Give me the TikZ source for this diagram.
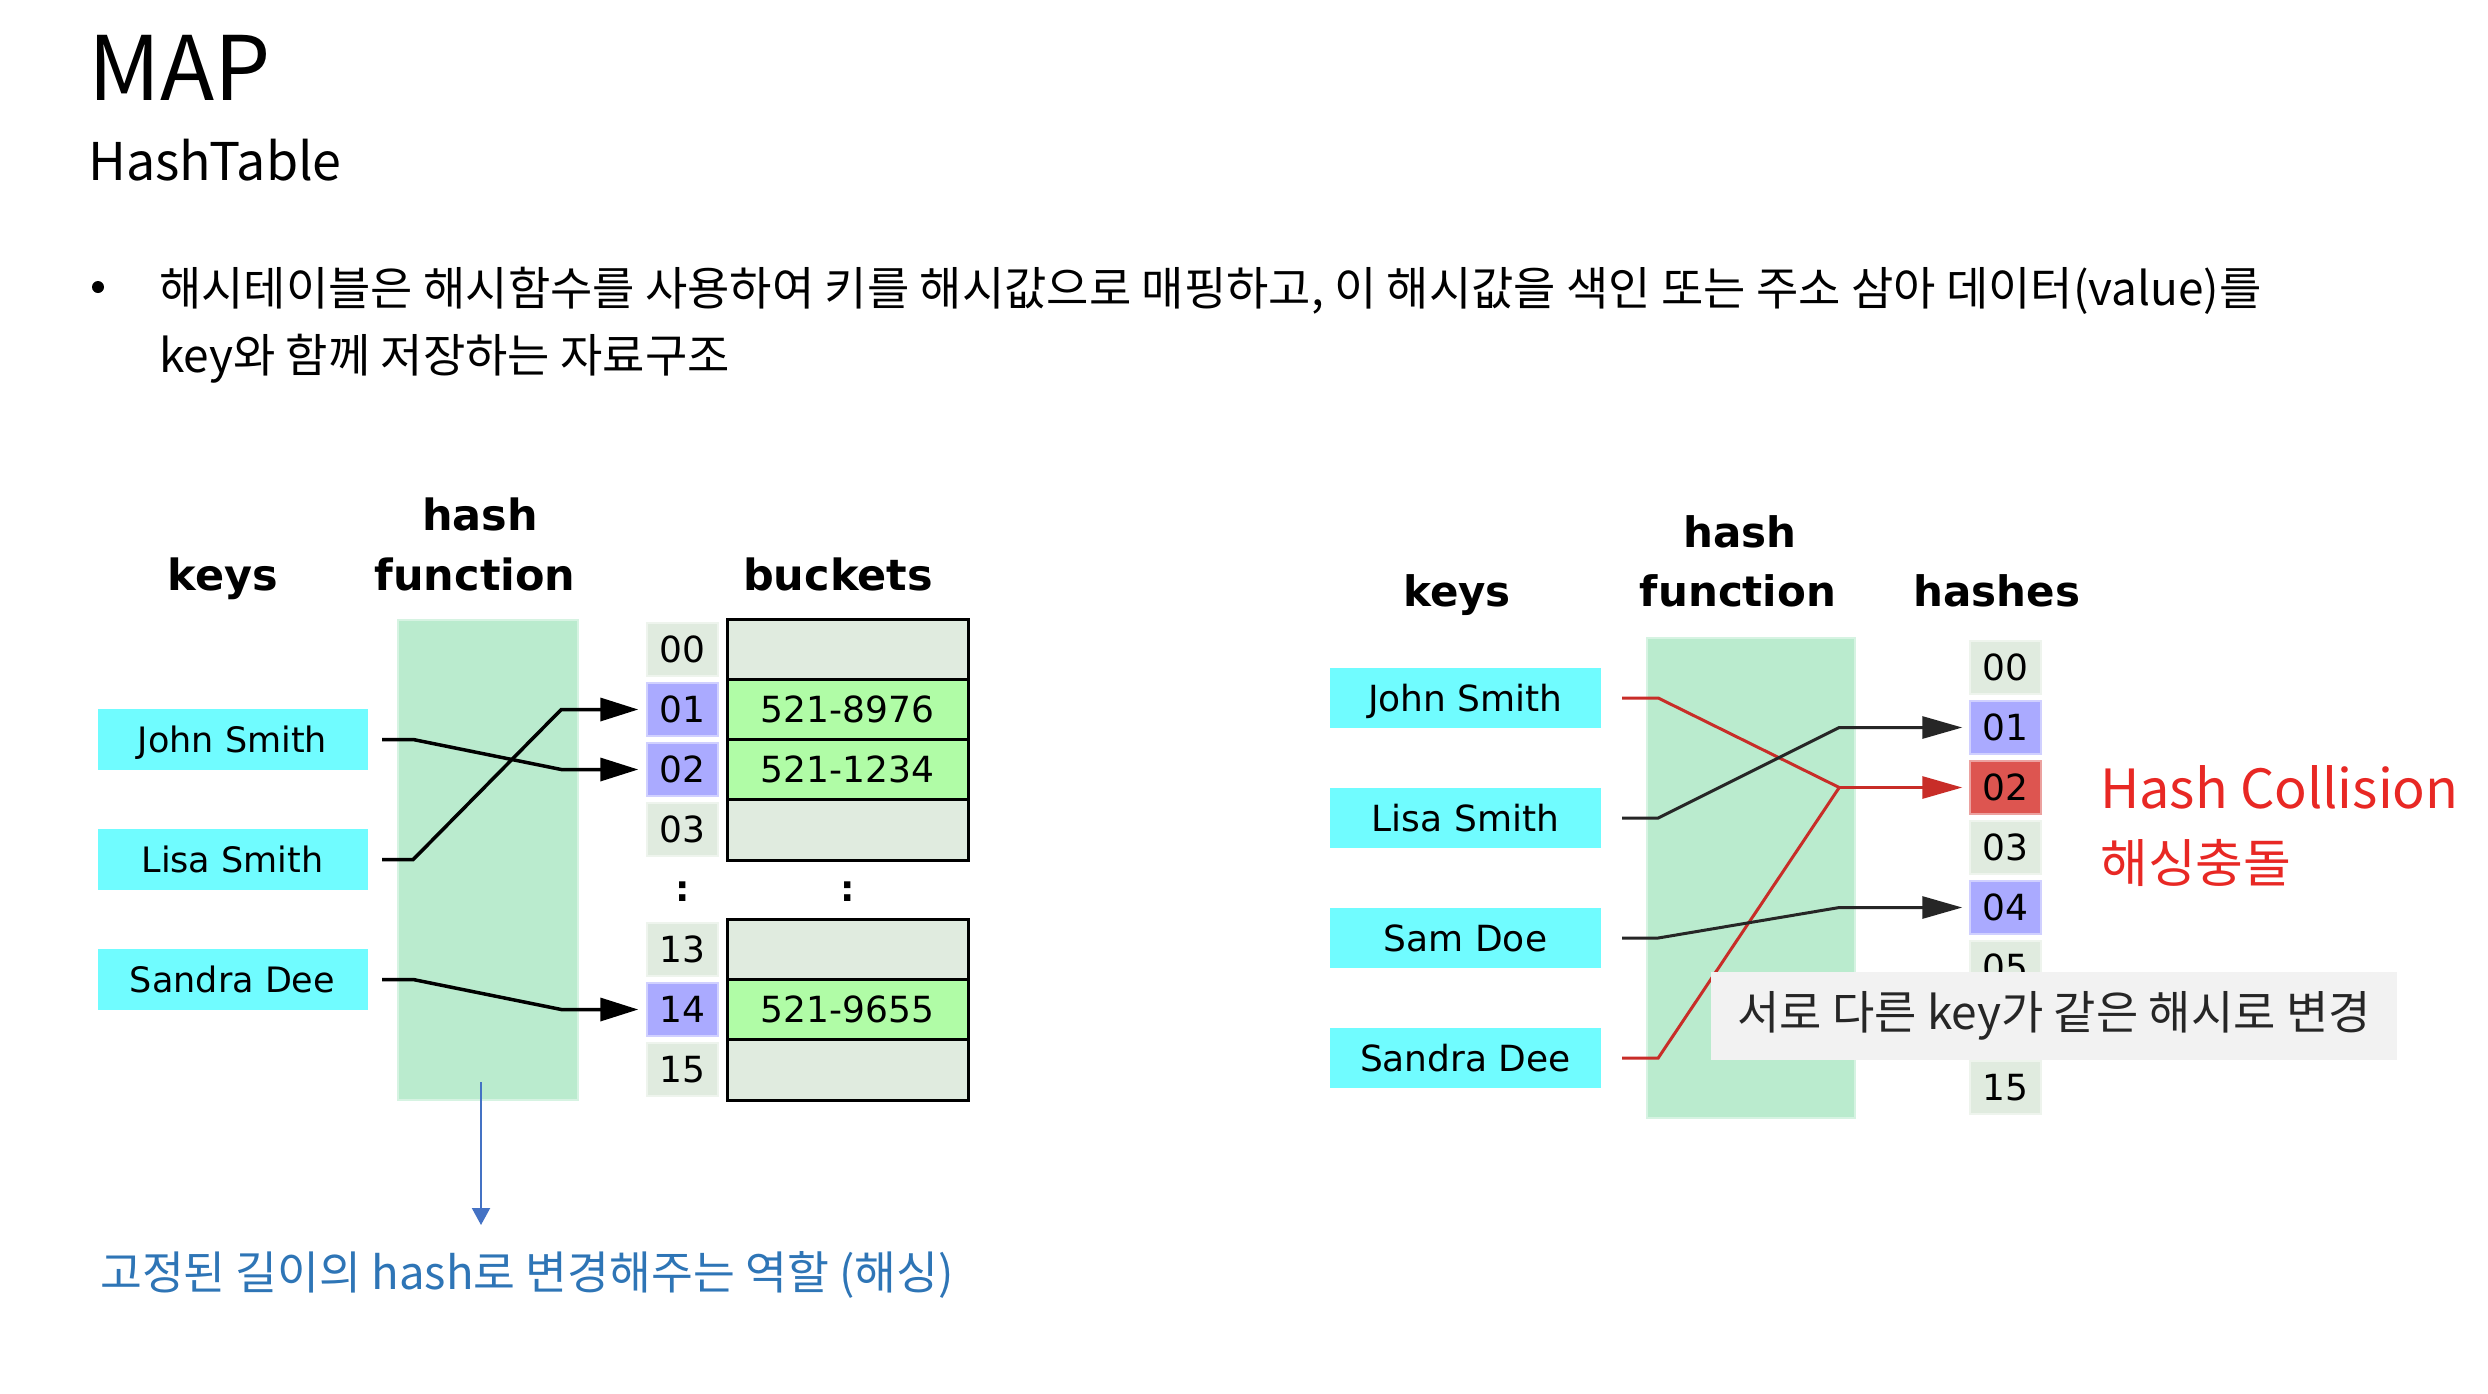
\documentclass[tikz,border=0pt]{standalone}
\usepackage{fontspec}
\setmainfont{DejaVu Sans}
\newfontfamily\kr{Noto Sans CJK KR}
\usetikzlibrary{arrows.meta,calc}
\newcommand\myfs[1]{\fontsize{#1pt}{#1pt}\selectfont}
\definecolor{keycyan}{RGB}{112,252,255}
\definecolor{fngreen}{RGB}{186,235,206}
\definecolor{cellgray}{RGB}{224,235,223}
\definecolor{cellblue}{RGB}{170,170,255}
\definecolor{cellred}{RGB}{221,85,80}
\definecolor{bucketgreen}{RGB}{176,252,166}
\definecolor{linered}{RGB}{200,45,40}
\definecolor{collred}{RGB}{232,40,36}
\definecolor{capblue}{RGB}{46,117,182}
\definecolor{arrowblue}{RGB}{68,114,196}
\definecolor{notegray}{RGB}{242,242,242}
\begin{document}
\begin{tikzpicture}[x=1pt,y=-1pt,
  keybox/.style={fill=keycyan, minimum width=270pt, minimum height=61pt, inner sep=0pt,
     font=\myfs{35}, text height=25.5pt, text depth=0pt},
  fnbox/.style={fill=fngreen, draw=fngreen!60!white, line width=1.5pt, inner sep=0pt},
  idxcell/.style={fill=#1, draw=#1!55!white, line width=1.5pt, minimum width=71pt,
     minimum height=53pt, inner sep=0pt, font=\myfs{36}, text height=26.2pt, text depth=0pt},
  bucket/.style={fill=#1, draw=black, line width=3pt, minimum width=241pt,
     minimum height=60.5pt, inner sep=0pt, font=\myfs{36}, text height=26.2pt, text depth=0pt},
  hdr/.style={font=\myfs{43}\bfseries, anchor=base, inner sep=0pt},
  dots/.style={font=\myfs{36}\bfseries, inner sep=0pt},
  conn/.style={line width=3.5pt, black},
  ltip/.style={-{Triangle[length=38pt,width=23pt]}, shorten >=8pt},
  rtip/.style={-{Triangle[length=40pt,width=22pt]}, shorten >=7pt},
  krtext/.style={font=\kr\myfs{#1}, anchor=base west, inner sep=0pt}
]
\fill[white] (0,0) rectangle (2488,1393);
\useasboundingbox (0,0) rectangle (2488,1393);

% ---- titles ----
\node[krtext=89] (title) at (88,100) {MAP};
\node[krtext=52] (subtitle) at (88,180) {HashTable};
\node[circle, fill=black, inner sep=0pt, minimum size=12pt] (bullet) at (98,287) {};
\node[krtext=46] (line1) at (159,305) {해시테이블은 해시함수를 사용하여 키를 해시값으로 매핑하고, 이 해시값을 색인 또는 주소 삼아 데이터(value)를};
\node[krtext=46] (line2) at (159,372) {key와 함께 저장하는 자료구조};

% ---- left diagram ----
\node[hdr] (lhash) at (480,530) {hash};
\node[hdr] (lfunc) at (475,590) {function};
\node[hdr] (lkeys) at (223,590) {keys};
\node[hdr] (lbuck) at (838,590) {buckets};

\node[fnbox, minimum width=180pt, minimum height=480pt] (lfn) at (488,860) {};

\node[keybox] (lj) at (232.5,739.5) {John Smith};
\node[keybox] (ll) at (232.5,859.5) {Lisa Smith};
\node[keybox] (ls) at (232.5,979.5) {Sandra Dee};

\node[idxcell=cellgray] (l00) at (682.5,649.5) {00};
\node[idxcell=cellblue] (l01) at (682.5,709.5) {01};
\node[idxcell=cellblue] (l02) at (682.5,769.5) {02};
\node[idxcell=cellgray] (l03) at (682.5,829.5) {03};
\node[idxcell=cellgray] (l13) at (682.5,949.5) {13};
\node[idxcell=cellblue] (l14) at (682.5,1009.5) {14};
\node[idxcell=cellgray] (l15) at (682.5,1069.5) {15};
\node[dots] (ldots1) at (682.5,892) {:};

\node[bucket=cellgray] (b00) at (847.5,649.5) {};
\node[bucket=bucketgreen] (b01) at (847.5,709.5) {521-8976};
\node[bucket=bucketgreen] (b02) at (847.5,769.5) {521-1234};
\node[bucket=cellgray] (b03) at (847.5,830) {};
\node[bucket=cellgray] (b13) at (847.5,949.5) {};
\node[bucket=bucketgreen] (b14) at (847.5,1009.5) {521-9655};
\node[bucket=cellgray] (b15) at (847.5,1070) {};
\node[dots] (ldots2) at (847.5,892) {:};

\draw[conn, ltip] ($(lj.east)+(14.5,0)$) -- ++(31,0) -- ($(l02.west)+(-85,0)$) -- (l02.west);
\draw[conn, ltip] ($(ll.east)+(14.5,0)$) -- ++(31,0) -- ($(l01.west)+(-85,0)$) -- (l01.west);
\draw[conn, ltip] ($(ls.east)+(14.5,0)$) -- ++(31,0) -- ($(l14.west)+(-85,0)$) -- (l14.west);

\coordinate (bs) at (481,1082);
\coordinate (be) at (481,1225);
\draw[arrowblue, line width=2pt, -{Triangle[length=17pt,width=18pt]}] (bs) -- (be);
\node[krtext=45.5, text=capblue] (cap) at (100,1289) {고정된 길이의 hash로 변경해주는 역할 (해싱)};

% ---- right diagram ----
\node[hdr, font=\myfs{42}\bfseries] (rhash) at (1740,547) {hash};
\node[hdr, font=\myfs{42}\bfseries] (rfunc) at (1738,606) {function};
\node[hdr, font=\myfs{42}\bfseries] (rkeys) at (1457,606) {keys};
\node[hdr, font=\myfs{42}\bfseries] (rhashes) at (1997,606) {hashes};

\node[fnbox, minimum width=208pt, minimum height=480pt] (rfn) at (1751,878) {};

\node[keybox, minimum width=271pt, minimum height=60pt, font=\myfs{36}, text height=26.2pt] (rj) at (1465.5,698) {John Smith};
\node[keybox, minimum width=271pt, minimum height=60pt, font=\myfs{36}, text height=26.2pt] (rl) at (1465.5,818) {Lisa Smith};
\node[keybox, minimum width=271pt, minimum height=60pt, font=\myfs{36}, text height=26.2pt] (rs) at (1465.5,938) {Sam Doe};
\node[keybox, minimum width=271pt, minimum height=60pt, font=\myfs{36}, text height=26.2pt] (rsd) at (1465.5,1058) {Sandra Dee};

\node[idxcell=cellgray] (r00) at (2005.5,667.5) {00};
\node[idxcell=cellblue] (r01) at (2005.5,727.5) {01};
\node[idxcell=cellred] (r02) at (2005.5,787.5) {02};
\node[idxcell=cellgray] (r03) at (2005.5,847.5) {03};
\node[idxcell=cellblue] (r04) at (2005.5,907.5) {04};
\node[idxcell=cellgray] (r05) at (2005.5,967.5) {05};
\node[idxcell=cellgray] (r15) at (2005.5,1087.5) {15};

\draw[conn, linered, line width=3pt] ($(rj.east)+(21,0)$) -- ++(36,0) -- ($(r02.west)+(-130,0)$) coordinate (junc);
\draw[conn, linered, line width=3pt, rtip] (junc) -- (r02.west);
\draw[conn, linered, line width=3pt] ($(rsd.east)+(21,0)$) -- ++(36,0) -- (junc);
\draw[conn, black!85, line width=3pt, rtip] ($(rl.east)+(21,0)$) -- ++(36,0) -- ($(r01.west)+(-130,0)$) -- (r01.west);
\draw[conn, black!85, line width=3pt, rtip] ($(rs.east)+(21,0)$) -- ++(36,0) -- ($(r04.west)+(-130,0)$) -- (r04.west);

\node[krtext=54, text=collred] (hc) at (2100,808) {Hash Collision};
\node[krtext=52, text=collred] (hs) at (2100,882) {해싱충돌};

\node[fill=notegray, minimum width=686pt, minimum height=88pt, inner sep=0pt,
      font=\kr\myfs{46}, text=black!85] (note) at (2054,1016) {서로 다른 key가 같은 해시로 변경};
\end{tikzpicture}
\end{document}
